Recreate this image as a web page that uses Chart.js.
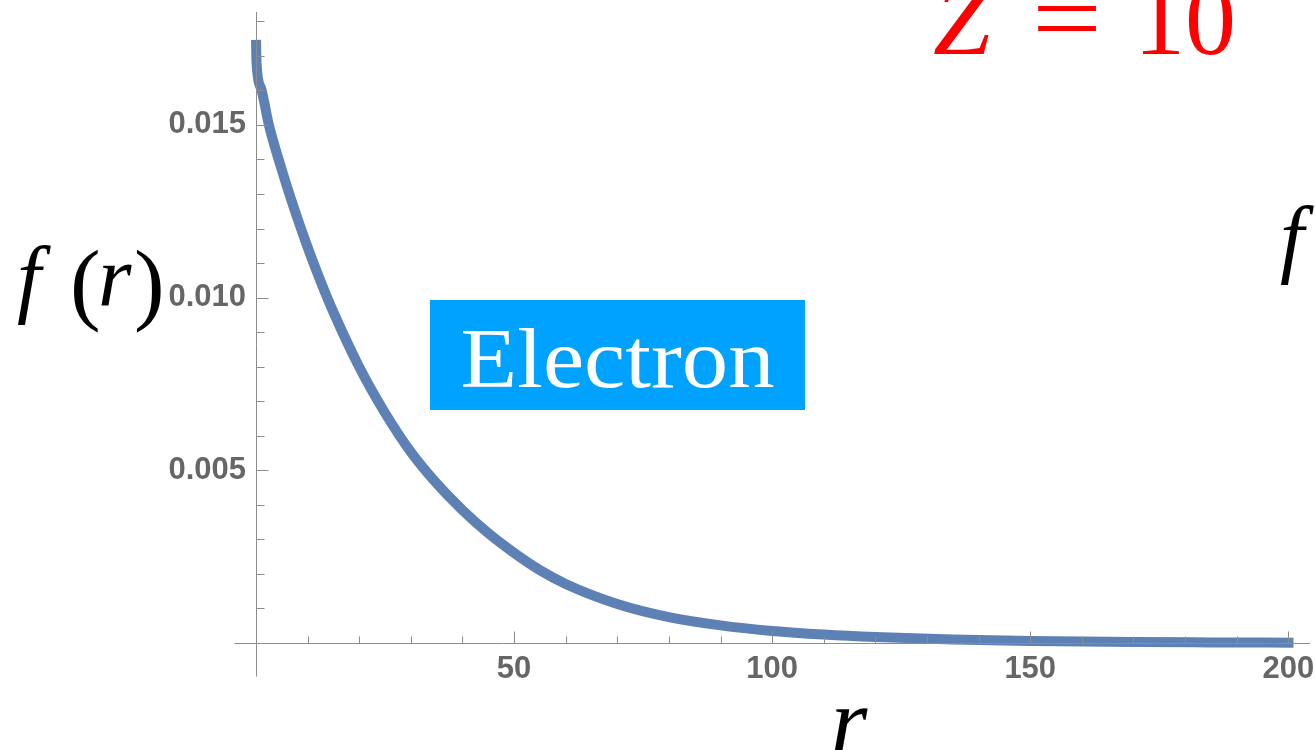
<!DOCTYPE html>
<html>
<head>
<meta charset="utf-8">
<script src="https://cdn.jsdelivr.net/npm/chart.js@4.4.1/dist/chart.umd.min.js"></script>
<style>
  html, body { margin: 0; padding: 0; background: #ffffff; }
</style>
</head>
<body>
<canvas id="grafico_f" width="1315" height="750"></canvas>
<script>
let azul = "#5e81b5";
let cinza = "#8c8c8c";
let cinza_texto = "#666666";
let vermelho = "#ff0000";
let ciano = "#00a2ff";

// Dados da curva f(r):
let valores_r = [0, 0.1, 1, 2.5, 5, 7.5, 10, 12.5, 15, 20, 25, 30, 35, 40, 45, 50, 55, 60,
                 70, 80, 90, 100, 110, 120, 135, 150, 170, 185, 201]
let valores_f = [0.01746, 0.01680, 0.01605, 0.01500, 0.01370, 0.01253, 0.01146, 0.01048, 0.00958, 0.00799,
                 0.00666, 0.00553, 0.00462, 0.00385, 0.00318, 0.00261, 0.00211, 0.00171,
                 0.00113, 0.00075, 0.00051, 0.00035, 0.000245, 0.000172, 0.000101, 0.000059, 0.000029, 0.000017, 0.000009]

// Marcas dos eixos:
let ticks_x = [50, 100, 150, 200]
let ticks_y = [0.005, 0.010, 0.015]

let pontos = valores_r.map((r, i) => ({ x: r, y: valores_f[i] }))

// Eixos no estilo do Mathematica: cruzam na origem, ticks para dentro
const eixos = {
  id: 'eixos',
  afterDatasetsDraw(chart) {
    const ctx = chart.ctx
    const sx = chart.scales.x
    const sy = chart.scales.y
    const x0 = Math.round(sx.getPixelForValue(0)) + 0.5
    const y0 = Math.round(sy.getPixelForValue(0)) + 0.5
    ctx.save()
    ctx.strokeStyle = cinza
    ctx.lineWidth = 1
    ctx.beginPath()
    ctx.moveTo(x0 - 22, y0)
    ctx.lineTo(chart.chartArea.right, y0)
    ctx.moveTo(x0, chart.chartArea.top)
    ctx.lineTo(x0, y0 + 33)
    for (let v = 10; v <= 200; v += 10) {
      const px = Math.round(sx.getPixelForValue(v)) + 0.5
      const len = v % 50 === 0 ? 12 : 7
      ctx.moveTo(px, y0)
      ctx.lineTo(px, y0 - len)
    }
    for (let k = 1; k <= 18; k++) {
      const py = Math.round(sy.getPixelForValue(k / 1000)) + 0.5
      const len = k % 5 === 0 ? 12 : 8
      ctx.moveTo(x0, py)
      ctx.lineTo(x0 + len, py)
    }
    ctx.stroke()
    ctx.restore()
  }
}

// Textos: rótulos dos eixos, Z = 10 e a caixa "Electron"
const textos = {
  id: 'textos',
  afterDraw(chart) {
    const ctx = chart.ctx
    ctx.save()
    ctx.textBaseline = 'alphabetic'
    ctx.textAlign = 'left'

    // f(r) à esquerda
    ctx.fillStyle = '#000000'
    ctx.font = 'italic 86px "Liberation Serif"'
    ctx.fillText('f', 17, 306)
    ctx.fillText('r', 98, 306)
    ctx.font = '92px "Liberation Serif"'
    ctx.fillText('(', 70, 313)
    ctx.fillText(')', 134, 313)

    // f cortado na borda direita
    ctx.font = 'italic 86px "Liberation Serif"'
    ctx.fillText('f', 1280, 266)

    // r embaixo
    ctx.textAlign = 'center'
    ctx.font = 'italic 94px "Liberation Serif"'
    ctx.fillText('r', 849, 752)

    // Z = 10
    ctx.fillStyle = vermelho
    ctx.textAlign = 'left'
    ctx.font = 'italic 104px "Liberation Serif"'
    ctx.fillText('Z', 933, 54)
    ctx.font = '102px "Liberation Serif"'
    ctx.fillText('10', 1134, 54)
    const we = ctx.measureText('=').width
    ctx.save()
    ctx.translate(1032, 52)
    ctx.scale(70 / we, 1)
    ctx.fillText('=', 0, 0)
    ctx.restore()

    // Caixa Electron
    ctx.fillStyle = ciano
    ctx.fillRect(430, 300, 375, 110)
    ctx.fillStyle = '#ffffff'
    ctx.font = '84px "Liberation Serif"'
    const w = ctx.measureText('Electron').width
    ctx.translate(617.5, 387)
    ctx.scale(314 / w, 1)
    ctx.textAlign = 'center'
    ctx.fillText('Electron', 0, 0)
    ctx.restore()
  }
}

const c_grafico = document.getElementById('grafico_f').getContext('2d')
const grafico = new Chart(c_grafico, {
  type: 'line',
  data: {
    datasets: [{
      label: 'f(r)',
      data: pontos,
      borderColor: azul,
      borderWidth: 10,
      borderCapStyle: 'butt',
      borderJoinStyle: 'round',
      pointRadius: 0,
      fill: false,
      cubicInterpolationMode: 'monotone',
      clip: false
    }]
  },
  options: {
    responsive: false,
    animation: false,
    layout: {
      padding: { top: 12, right: 5, left: 0, bottom: 0 }
    },
    scales: {
      x: {
        type: 'linear',
        min: 0,
        max: 204.2,
        grid: { display: false, drawTicks: false, tickLength: 0 },
        border: { display: false },
        afterFit: (scale) => {
          scale.height = 107
          scale.paddingLeft = 0
          scale.paddingRight = 0
        },
        afterBuildTicks: (scale) => { scale.ticks = ticks_x.map(v => ({ value: v })) },
        ticks: {
          autoSkip: false,
          maxRotation: 0,
          padding: 8,
          color: cinza_texto,
          font: { family: 'Liberation Sans', size: 31, weight: 'bold' },
          callback: (v) => String(v)
        }
      },
      y: {
        type: 'linear',
        min: 0,
        max: 0.01827,
        grid: { display: false, drawTicks: false, tickLength: 0 },
        border: { display: false },
        afterFit: (scale) => {
          scale.width = 256
          scale.paddingTop = 0
          scale.paddingBottom = 0
        },
        afterBuildTicks: (scale) => { scale.ticks = ticks_y.map(v => ({ value: v })) },
        ticks: {
          autoSkip: false,
          padding: 10,
          color: cinza_texto,
          font: { family: 'Liberation Sans', size: 31, weight: 'bold' },
          callback: (v) => v.toFixed(3)
        }
      }
    },
    plugins: {
      legend: { display: false },
      tooltip: { enabled: false }
    }
  },
  plugins: [eixos, textos]
})
</script>
</body>
</html>
